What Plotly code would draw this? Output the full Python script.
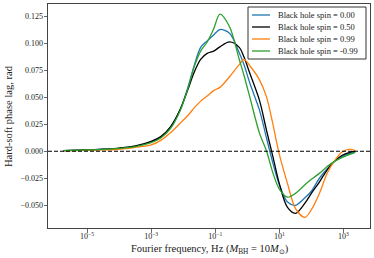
import plotly.graph_objects as go

# Fourier frequency grid (Hz)
freq = [1.8e-6, 1e-5, 3.2e-5, 1e-4, 3.2e-4, 1e-3, 2e-3, 4e-3, 7.9e-3, 1.4e-2,
        2.2e-2, 3.5e-2, 5.6e-2, 8.9e-2, 0.14, 0.28, 0.56, 0.79, 1.2, 2.4,
        4.0, 6.3, 10.0, 18.0, 32.0, 63.0, 100.0, 178.0, 316.0, 500.0,
        890.0, 1580.0, 2340.0]

lag_spin_000 = [0.0005, 0.0012, 0.0018, 0.0027, 0.0045, 0.0085, 0.0130, 0.0220, 0.0380, 0.0590,
                0.0790, 0.0960, 0.1020, 0.1075, 0.1125, 0.1090, 0.0910, 0.0800, 0.0630, 0.0380,
                0.0120, -0.0110, -0.0310, -0.0470, -0.0500, -0.0430, -0.0370, -0.0250, -0.0160, -0.0099,
                -0.0050, -0.0020, -0.0005]

lag_spin_050 = [0.0005, 0.0012, 0.0019, 0.0029, 0.0048, 0.0090, 0.0135, 0.0225, 0.0380, 0.0570,
                0.0730, 0.0850, 0.0905, 0.0925, 0.0965, 0.1010, 0.0960, 0.0870, 0.0720, 0.0470,
                0.0190, -0.0050, -0.0300, -0.0520, -0.0575, -0.0480, -0.0390, -0.0285, -0.0170, -0.0099,
                -0.0040, -0.0010, 0.0000]

lag_spin_099 = [0.0003, 0.0008, 0.0012, 0.0018, 0.0035, 0.0058, 0.0100, 0.0170, 0.0256, 0.0330,
                0.0400, 0.0463, 0.0510, 0.0560, 0.0590, 0.0688, 0.0800, 0.0849, 0.0790, 0.0660,
                0.0500, 0.0250, -0.0030, -0.0300, -0.0530, -0.0612, -0.0540, -0.0390, -0.0200, -0.0099,
                -0.0010, 0.0019, 0.0005]

lag_spin_m099 = [0.0005, 0.0011, 0.0017, 0.0026, 0.0043, 0.0080, 0.0122, 0.0210, 0.0370, 0.0580,
                 0.0780, 0.0925, 0.1010, 0.1130, 0.1268, 0.1150, 0.0850, 0.0700, 0.0500, 0.0167,
                 0.0000, -0.0200, -0.0350, -0.0425, -0.0390, -0.0310, -0.0260, -0.0205, -0.0140, -0.0099,
                 -0.0060, -0.0030, -0.0010]

series_names = ["Black hole spin = 0.00", "Black hole spin = 0.50",
                "Black hole spin = 0.99", "Black hole spin = -0.99"]
series_values = [lag_spin_000, lag_spin_050, lag_spin_099, lag_spin_m099]
series_colors = ["#1f77b4", "#000000", "#ff7f0e", "#2ca02c"]

x_tickvals = [1e-5, 1e-3, 1e-1, 1e1, 1e3]
x_ticktext = ["10<sup>−5</sup>", "10<sup>−3</sup>", "10<sup>−1</sup>", "10<sup>1</sup>", "10<sup>3</sup>"]
y_tickvals = [-0.050, -0.025, 0.000, 0.025, 0.050, 0.075, 0.100, 0.125]

FONT = "Liberation Serif"
TXT = "#222222"

# plot area in pixels (for converting layout positions to paper coords)
L, R, T, B = 48, 370, 4, 228
W, H = 374, 258


def px(x):
    return (x - L) / (R - L)


def py(y):
    return 1 - (y - T) / (B - T)


fig = go.Figure()
for name, vals, col in zip(series_names, series_values, series_colors):
    fig.add_trace(go.Scatter(
        x=freq, y=vals, mode="lines", name=name, showlegend=False,
        line=dict(color=col, width=1.3, shape="spline", smoothing=0.9),
    ))

# zero reference line
fig.add_shape(type="line", xref="paper", yref="y", x0=0, x1=1, y0=0, y1=0,
              line=dict(color="black", width=1.1, dash="4px,2px"), layer="above")

# legend drawn manually (matplotlib-style compact legend)
fig.add_shape(type="rect", xref="paper", yref="paper",
              x0=px(248), x1=px(366), y0=py(59), y1=py(7),
              line=dict(color="#333333", width=1), fillcolor="white", layer="above")
row_y = [15, 27, 39, 51]
for name, col, ry in zip(series_names, series_colors, row_y):
    fig.add_shape(type="line", xref="paper", yref="paper",
                  x0=px(252), x1=px(270), y0=py(ry), y1=py(ry),
                  line=dict(color=col, width=1.3), layer="above")
    fig.add_annotation(xref="paper", yref="paper", x=px(276), y=py(ry),
                       xanchor="left", yanchor="middle", showarrow=False,
                       text=name, font=dict(family=FONT, size=8.5, color=TXT))

# axis titles
fig.add_annotation(xref="paper", yref="paper", x=px(210), y=py(249),
                   xanchor="center", yanchor="middle", showarrow=False,
                   text="Fourier frequency, Hz (<i>M</i><sub>BH</sub> = 10<i>M</i><sub>⊙</sub>)",
                   font=dict(family=FONT, size=10.5, color=TXT))
fig.add_annotation(xref="paper", yref="paper", x=px(8), y=0.5,
                   xanchor="center", yanchor="middle", showarrow=False, textangle=-90,
                   text="Hard-soft phase lag, rad",
                   font=dict(family=FONT, size=10.5, color=TXT))

axis_common = dict(
    showgrid=False, zeroline=False, showline=True, mirror=True, automargin=False,
    linecolor="#444444", linewidth=1, ticks="outside", ticklen=3.5,
    tickwidth=0.8, tickcolor="#444444",
    tickfont=dict(family=FONT, size=8, color=TXT),
)

fig.update_xaxes(type="log", range=[-6.22, 3.83], tickvals=x_tickvals, ticktext=x_ticktext,
                 ticklabelstandoff=-3, **axis_common)
fig.update_yaxes(range=[-0.0710, 0.1361], tickvals=y_tickvals, tickformat=".3f",
                 ticklabelstandoff=-1, **axis_common)

fig.update_layout(
    width=W, height=H,
    margin=dict(l=L, r=W - R, t=T, b=H - B, autoexpand=False),
    paper_bgcolor="white", plot_bgcolor="white",
    showlegend=False,
)

fig.write_html("out.html",
               config={"displayModeBar": False, "staticPlot": True},
               post_script="document.body.style.margin='0px';document.body.style.overflow='hidden';")
